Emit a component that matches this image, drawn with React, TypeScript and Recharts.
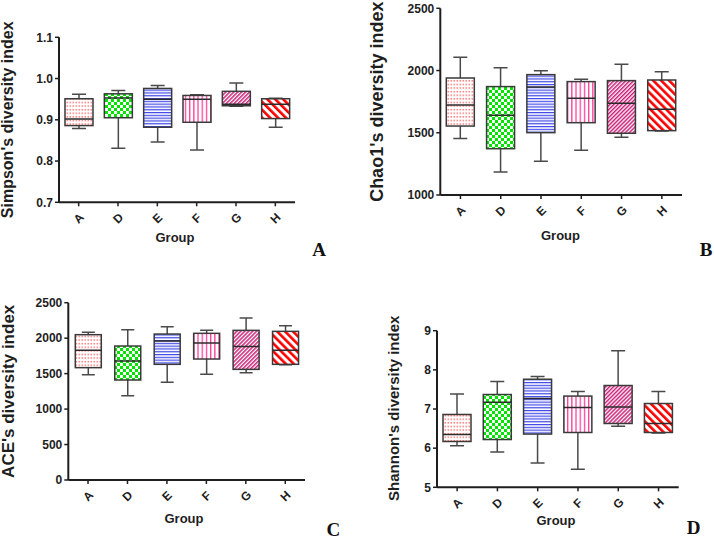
import React from 'react';
import { ComposedChart, Bar, XAxis, YAxis } from 'recharts';

const groups = ['A', 'D', 'E', 'F', 'G', 'H'];

// Panel A – Simpson
const simpsonMin = [0.879, 0.831, 0.846, 0.827, 0.933, 0.882];
const simpsonQ1 = [0.886, 0.905, 0.882, 0.894, 0.934, 0.903];
const simpsonMed = [0.902, 0.953, 0.950, 0.950, 0.938, 0.938];
const simpsonQ3 = [0.951, 0.963, 0.976, 0.959, 0.969, 0.951];
const simpsonMax = [0.962, 0.971, 0.983, 0.961, 0.989, 0.952];
const simpsonTicks = [0.7, 0.8, 0.9, 1.0, 1.1];

// Panel B – Chao1
const chaoMin = [1453, 1185, 1271, 1359, 1463, 1514];
const chaoQ1 = [1554, 1372, 1501, 1581, 1496, 1517];
const chaoMed = [1723, 1640, 1868, 1777, 1737, 1688];
const chaoQ3 = [1940, 1871, 1967, 1911, 1919, 1924];
const chaoMax = [2106, 2023, 1999, 1929, 2050, 1991];
const chaoTicks = [1000, 1500, 2000, 2500];

// Panel C – ACE
const aceMin = [1485, 1189, 1377, 1490, 1513, 1626];
const aceQ1 = [1584, 1410, 1631, 1706, 1560, 1631];
const aceMed = [1828, 1678, 1960, 1931, 1884, 1828];
const aceQ3 = [2049, 1889, 2058, 2068, 2110, 2096];
const aceMax = [2082, 2119, 2162, 2110, 2284, 2176];
const aceTicks = [0, 500, 1000, 1500, 2000, 2500];

// Panel D – Shannon
const shannonMin = [6.06, 5.90, 5.62, 5.46, 6.56, 6.39];
const shannonQ1 = [6.17, 6.22, 6.36, 6.40, 6.63, 6.40];
const shannonMed = [6.35, 7.17, 7.27, 7.04, 7.05, 6.63];
const shannonQ3 = [6.86, 7.37, 7.76, 7.33, 7.60, 7.14];
const shannonMax = [7.38, 7.70, 7.83, 7.45, 8.49, 7.45];
const shannonTicks = [5, 6, 7, 8, 9];

const SANS = '"Liberation Sans", Arial, sans-serif';
const SERIF = '"Liberation Serif", "Times New Roman", serif';
const AXIS = '#1e1e1e';
const X_AXIS_H = 20;

function buildRows(mn: number[], q1: number[], md: number[], q3: number[], mx: number[]) {
  return groups.map((g, i) => ({
    group: g,
    idx: i,
    range: [mn[i], mx[i]],
    min: mn[i],
    q1: q1[i],
    med: md[i],
    q3: q3[i],
    max: mx[i],
  }));
}

function PatternDef({ id, kind }: { id: string; kind: number }) {
  if (kind === 0) {
    return (
      <pattern id={id} patternUnits="userSpaceOnUse" width={3} height={3.6}>
        <rect x={0} y={0} width={3} height={3.6} fill="#ffffff" />
        <rect x={0.5} y={1} width={1.6} height={1.3} fill="#ff7070" />
      </pattern>
    );
  }
  if (kind === 1) {
    return (
      <pattern id={id} patternUnits="userSpaceOnUse" width={6} height={6}>
        <rect x={0} y={0} width={6} height={6} fill="#ffffff" />
        <rect x={0} y={0} width={3} height={3} fill="#00e400" />
        <rect x={3} y={3} width={3} height={3} fill="#00e400" />
      </pattern>
    );
  }
  if (kind === 2) {
    return (
      <pattern id={id} patternUnits="userSpaceOnUse" width={4} height={2.8}>
        <rect x={0} y={0} width={4} height={2.8} fill="#ffffff" />
        <rect x={0} y={0} width={4} height={1.2} fill="#3f48e6" />
      </pattern>
    );
  }
  if (kind === 3) {
    return (
      <pattern id={id} patternUnits="userSpaceOnUse" width={4.2} height={4}>
        <rect x={0} y={0} width={4.2} height={4} fill="#ffffff" />
        <rect x={0} y={0} width={1.3} height={4} fill="#ff3d9a" />
      </pattern>
    );
  }
  if (kind === 4) {
    return (
      <pattern id={id} patternUnits="userSpaceOnUse" width={2.8} height={2.8} patternTransform="rotate(45)">
        <rect x={0} y={0} width={2.8} height={2.8} fill="#ffffff" />
        <rect x={0} y={0} width={1.5} height={2.8} fill="#cc1f78" />
      </pattern>
    );
  }
  return (
    <pattern id={id} patternUnits="userSpaceOnUse" width={5.6} height={5.6} patternTransform="rotate(-45)">
      <rect x={0} y={0} width={5.6} height={5.6} fill="#ffffff" />
      <rect x={0} y={0} width={2.6} height={5.6} fill="#ff0000" />
    </pattern>
  );
}

function makeBoxShape(prefix: string) {
  return (props: any) => {
    const { x, y, width, height, payload } = props;
    if (!payload || x == null || y == null) return null;
    const top = Math.min(y, y + height);
    const h = Math.abs(height);
    const span = payload.max - payload.min;
    const py = (v: number) => (span === 0 ? top : top + ((payload.max - v) / span) * h);
    const cx = x + width / 2;
    const capW = width * 0.5;
    const id = `${prefix}-pat-${payload.idx}`;
    const yMax = py(payload.max);
    const yQ3 = py(payload.q3);
    const yMed = py(payload.med);
    const yQ1 = py(payload.q1);
    const yMin = py(payload.min);
    return (
      <g>
        <defs>
          <PatternDef id={id} kind={payload.idx} />
        </defs>
        <line x1={cx} x2={cx} y1={yMax} y2={yQ3} stroke="#4a4a4a" strokeWidth={1.5} />
        <line x1={cx} x2={cx} y1={yQ1} y2={yMin} stroke="#4a4a4a" strokeWidth={1.5} />
        <line x1={cx - capW / 2} x2={cx + capW / 2} y1={yMax} y2={yMax} stroke="#4a4a4a" strokeWidth={1.5} />
        <line x1={cx - capW / 2} x2={cx + capW / 2} y1={yMin} y2={yMin} stroke="#4a4a4a" strokeWidth={1.5} />
        <rect x={x} y={yQ3} width={width} height={Math.max(0.5, yQ1 - yQ3)} fill={`url(#${id})`} stroke="#3a3a3a" strokeWidth={1.5} />
        <line x1={x} x2={x + width} y1={yMed} y2={yMed} stroke="#2a2a2a" strokeWidth={1.5} />
      </g>
    );
  };
}

function XTick(props: any) {
  const { x, y, payload } = props;
  const ty = y + 10;
  return (
    <text
      x={x}
      y={ty}
      transform={`rotate(-45 ${x} ${ty})`}
      textAnchor="middle"
      dy="0.35em"
      fontFamily={SANS}
      fontWeight="bold"
      fontSize={12}
      fill={AXIS}
    >
      {payload.value}
    </text>
  );
}

function YTitle(props: any) {
  const { tx, ty, text, size } = props;
  return (
    <text
      x={tx}
      y={ty}
      transform={`rotate(-90 ${tx} ${ty})`}
      textAnchor="middle"
      dominantBaseline="central"
      fontFamily={SANS}
      fontWeight="bold"
      fontSize={size}
      fill={AXIS}
    >
      {text}
    </text>
  );
}

function XTitle(props: any) {
  const { gx, gy, lx, ly, letter } = props;
  return (
    <g>
      <text x={gx} y={gy} textAnchor="middle" dominantBaseline="central" fontFamily={SANS} fontWeight="bold" fontSize={13} fill={AXIS}>
        Group
      </text>
      <text x={lx} y={ly} textAnchor="middle" dominantBaseline="central" fontFamily={SERIF} fontWeight="bold" fontSize={19} fill="#111">
        {letter}
      </text>
    </g>
  );
}

type PanelProps = {
  prefix: string;
  left: number;
  top: number;
  height: number;
  rows: any[];
  domain: [number, number];
  ticks: number[];
  fmt?: (v: number) => string;
  margin: { top: number; right: number; bottom: number; left: number };
  yWidth: number;
  barSize: number;
  yTitle: { tx: number; ty: number; text: string; size: number };
  xTitle: { gx: number; gy: number; lx: number; ly: number; letter: string };
};

function Panel(p: PanelProps) {
  const margin = { ...p.margin, bottom: p.margin.bottom - X_AXIS_H };
  return (
    <div style={{ position: 'absolute', left: p.left, top: p.top, width: 357, height: p.height }}>
      <ComposedChart width={357} height={p.height} data={p.rows} margin={margin}>
        <XAxis
          dataKey="group"
          type="category"
          interval={0}
          height={X_AXIS_H}
          tickSize={4}
          tickLine={{ stroke: AXIS, strokeWidth: 1.5 }}
          axisLine={{ stroke: AXIS, strokeWidth: 2 }}
          tick={<XTick />}
          label={<XTitle {...p.xTitle} />}
        />
        <YAxis
          type="number"
          domain={p.domain}
          ticks={p.ticks}
          interval={0}
          allowDataOverflow
          width={p.yWidth}
          tickSize={4}
          tickFormatter={p.fmt}
          tickLine={{ stroke: AXIS, strokeWidth: 1.5 }}
          axisLine={{ stroke: AXIS, strokeWidth: 2 }}
          tick={{ fontFamily: SANS, fontWeight: 'bold', fontSize: 12, fill: AXIS }}
          label={<YTitle {...p.yTitle} />}
        />
        <Bar dataKey="range" barSize={p.barSize} isAnimationActive={false} shape={makeBoxShape(p.prefix)} />
      </ComposedChart>
    </div>
  );
}

export default function App() {
  const simpsonRows = buildRows(simpsonMin, simpsonQ1, simpsonMed, simpsonQ3, simpsonMax);
  const chaoRows = buildRows(chaoMin, chaoQ1, chaoMed, chaoQ3, chaoMax);
  const aceRows = buildRows(aceMin, aceQ1, aceMed, aceQ3, aceMax);
  const shannonRows = buildRows(shannonMin, shannonQ1, shannonMed, shannonQ3, shannonMax);
  return (
    <div style={{ position: 'absolute', left: 0, top: 0, width: 714, height: 539, background: '#ffffff', overflow: 'hidden' }}>
      <Panel
        prefix="pa"
        left={0}
        top={0}
        height={270}
        rows={simpsonRows}
        domain={[0.7, 1.1]}
        ticks={simpsonTicks}
        fmt={(v: number) => v.toFixed(1)}
        margin={{ top: 37.3, right: 62, bottom: 67.7, left: 0 }}
        yWidth={59}
        barSize={28}
        yTitle={{ tx: 8, ty: 119.8, text: "Simpson's diversity index", size: 16 }}
        xTitle={{ gx: 175, gy: 237, lx: 319, ly: 249, letter: 'A' }}
      />
      <Panel
        prefix="pb"
        left={357}
        top={0}
        height={270}
        rows={chaoRows}
        domain={[1000, 2500]}
        ticks={chaoTicks}
        margin={{ top: 8.3, right: 32, bottom: 75, left: 0 }}
        yWidth={83.3}
        barSize={28}
        yTitle={{ tx: 20.5, ty: 101.7, text: "Chao1's diversity index", size: 18 }}
        xTitle={{ gx: 203.5, gy: 235, lx: 349, ly: 249.5, letter: 'B' }}
      />
      <Panel
        prefix="pc"
        left={0}
        top={270}
        height={269}
        rows={aceRows}
        domain={[0, 2500]}
        ticks={aceTicks}
        margin={{ top: 32.7, right: 52, bottom: 59, left: 0 }}
        yWidth={68.3}
        barSize={26}
        yTitle={{ tx: 9, ty: 121.3, text: "ACE's diversity index", size: 17 }}
        xTitle={{ gx: 184, gy: 248.3, lx: 333.3, ly: 259.5, letter: 'C' }}
      />
      <Panel
        prefix="pd"
        left={357}
        top={270}
        height={269}
        rows={shannonRows}
        domain={[5, 9]}
        ticks={shannonTicks}
        margin={{ top: 60.7, right: 35.3, bottom: 51.7, left: 0 }}
        yWidth={80}
        barSize={28}
        yTitle={{ tx: 36.3, ty: 138.3, text: "Shannon's diversity index", size: 15 }}
        xTitle={{ gx: 199, gy: 250, lx: 336.7, ly: 257.5, letter: 'D' }}
      />
    </div>
  );
}
